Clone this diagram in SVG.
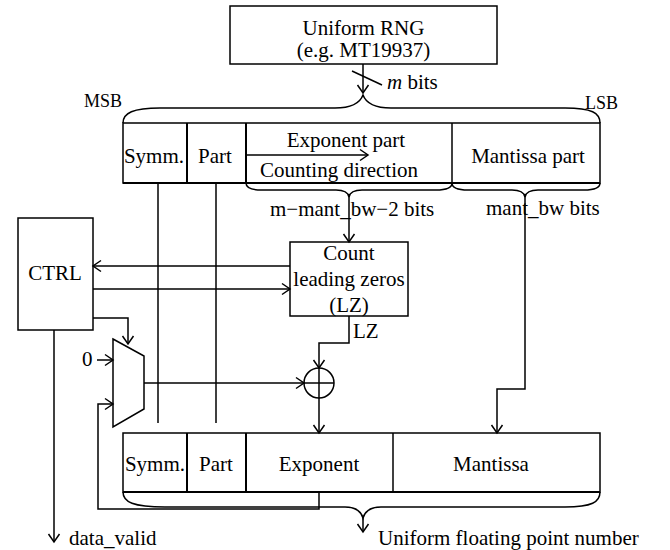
<svg xmlns="http://www.w3.org/2000/svg" width="670" height="550" viewBox="0 0 670 550">
<style>
.ln{stroke:#000;stroke-width:1.5;fill:none}
.bx{stroke:#000;stroke-width:1.5;fill:#fff}
.dv{stroke:#000;stroke-width:2;fill:none}
.t{font-family:"Liberation Serif","Times New Roman",serif;font-size:21px;fill:#000}
.c{text-anchor:middle}
.s{font-size:18px}
.ar{marker-end:url(#ah)}
</style>
<defs>
<marker id="ah" viewBox="-10 -7 12 14" refX="0" refY="0" markerWidth="12" markerHeight="14" markerUnits="userSpaceOnUse" orient="auto">
<path d="M-8,-5.5 L0,0 L-8,5.5" fill="none" stroke="#000" stroke-width="1.5"/>
</marker>
</defs>
<rect width="670" height="550" fill="#fff"/>

<g id="rng">
<rect class="bx" x="230" y="6" width="267" height="58"/>
<text class="t c" x="363.5" y="35">Uniform RNG</text>
<text class="t c" x="363.5" y="57">(e.g. MT19937)</text>
</g>

<g id="input-word">
<text class="t s" x="122" y="107" text-anchor="end">MSB</text>
<text class="t s" x="585" y="109">LSB</text>
<path class="ln" d="M123,123 C123,113 133,108 160,108 L335,108 C352,108 360,103 363,95 C366,103 374,108 391,108 L565,108 C592,108 600,113 600,123"/>
<rect class="bx" x="123" y="123" width="477" height="60"/>
<line class="dv" x1="187" y1="123" x2="187" y2="183"/>
<line class="dv" x1="246" y1="123" x2="246" y2="183"/>
<line class="ln" x1="452" y1="123" x2="452" y2="183"/>
<line class="dv" x1="123" y1="183" x2="600" y2="183"/>
<text class="t c" x="154" y="163">Symm.</text>
<text class="t c" x="215" y="163">Part</text>
<text class="t c" x="346" y="147">Exponent part</text>
<line class="ln ar" x1="246" y1="155" x2="368" y2="155"/>
<text class="t c" x="339" y="177">Counting direction</text>
<text class="t c" x="528" y="163">Mantissa part</text>
<path class="ln" d="M246,183 C246,188 252,190 262,190 L336,190 C344,190 348,192 349,197 C350,192 354,190 362,190 L436,190 C446,190 452,188 452,183"/>
<path class="ln" d="M452,183 C452,188 458,190 468,190 L512,190 C520,190 524,192 525,197 C526,192 530,190 538,190 L584,190 C594,190 600,188 600,183"/>
<text class="t" x="270" y="216">m−mant_bw−2 bits</text>
<text class="t" x="486" y="215">mant_bw bits</text>
</g>

<g id="clz">
<rect class="bx" x="290" y="242" width="118" height="74"/>
<text class="t c" x="349" y="260">Count</text>
<text class="t c" x="349" y="286">leading zeros</text>
<text class="t c" x="349" y="312">(LZ)</text>
</g>

<g id="ctrl">
<rect class="bx" x="18" y="218" width="75" height="112"/>
<text class="t c" x="55" y="280">CTRL</text>
</g>

<g id="mux">
<path class="ln" d="M113,339 L144,356 L144,409 L113,427 Z"/>
<text class="t" x="82" y="366">0</text>
</g>

<g id="adder">
<circle class="ln" cx="319" cy="383" r="15"/>
<line class="ln" x1="304" y1="383" x2="334" y2="383"/>
<line class="ln" x1="319" y1="368" x2="319" y2="398"/>
</g>

<g id="output-word">
<rect class="bx" x="123" y="433" width="477" height="59"/>
<line class="dv" x1="187" y1="433" x2="187" y2="492"/>
<line class="dv" x1="246" y1="433" x2="246" y2="492"/>
<line class="ln" x1="393" y1="433" x2="393" y2="492"/>
<line class="dv" x1="123" y1="492" x2="600" y2="492"/>
<text class="t c" x="155" y="471">Symm.</text>
<text class="t c" x="216" y="471">Part</text>
<text class="t c" x="319" y="471">Exponent</text>
<text class="t c" x="491" y="471">Mantissa</text>
<path class="ln" d="M123,492 C123,502 133,507 165,507 L345,507 C356,507 361,511 363,518 C365,511 370,507 381,507 L565,507 C592,507 600,502 600,492"/>
<text class="t" x="378" y="545">Uniform floating point number</text>
</g>

<g id="connectors">
<line class="ln ar" x1="363" y1="64" x2="363" y2="93"/>
<line class="ln" x1="352" y1="71" x2="382" y2="85"/>
<text class="t" x="387" y="89"><tspan font-style="italic">m</tspan> bits</text>
<line class="ln" x1="158" y1="183" x2="158" y2="423"/>
<line class="ln" x1="216" y1="183" x2="216" y2="423"/>
<line class="ln ar" x1="349" y1="197" x2="349" y2="242"/>
<polyline class="ln ar" points="525,197 525,389 497,389 497,433"/>
<line class="ln ar" x1="290" y1="266" x2="93" y2="266"/>
<line class="ln ar" x1="93" y1="289" x2="290" y2="289"/>
<polyline class="ln ar" points="93,318 128,318 128,344"/>
<line class="ln ar" x1="97" y1="360" x2="113" y2="360"/>
<line class="ln ar" x1="144" y1="383" x2="304" y2="383"/>
<polyline class="ln ar" points="349,316 349,343 319,343 319,368"/>
<text class="t" x="353" y="338">LZ</text>
<line class="ln ar" x1="319" y1="398" x2="319" y2="433"/>
<polyline class="ln ar" points="319,492 319,509 98,509 98,404 113,404"/>
<line class="ln ar" x1="363" y1="518" x2="363" y2="532"/>
<line class="ln ar" x1="54" y1="330" x2="54" y2="542"/>
<text class="t" x="69" y="545">data_valid</text>
</g>
</svg>
